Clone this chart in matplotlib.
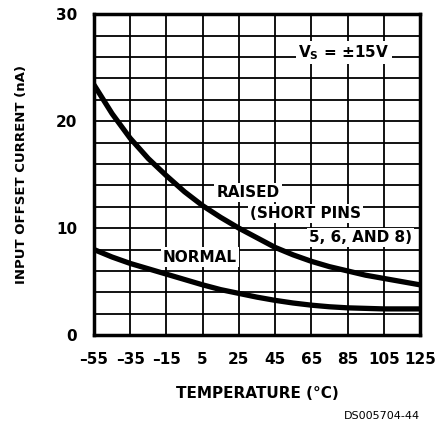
import matplotlib
matplotlib.use("Agg")
import matplotlib.pyplot as plt

temps = [-55, -45, -35, -25, -15, -5, 5, 15, 25, 35,
         45, 55, 65, 75, 85, 95, 105, 115, 125]
raised = [23.4, 20.7, 18.4, 16.5, 14.9, 13.4, 12.1, 11.0, 10.0, 9.1,
          8.2, 7.5, 6.9, 6.4, 6.0, 5.6, 5.3, 5.0, 4.7]
normal = [8.0, 7.3, 6.7, 6.2, 5.7, 5.2, 4.7, 4.25, 3.9, 3.55,
          3.25, 3.0, 2.8, 2.65, 2.55, 2.5, 2.45, 2.45, 2.45]

x_ticks = [-55, -35, -15, 5, 25, 45, 65, 85, 105, 125]
y_ticks = [0, 10, 20, 30]

plt.rcParams["font.family"] = ["Liberation Sans Narrow", "DejaVu Sans"]

fig = plt.figure(figsize=(4.37, 4.28), dpi=100)
ax = fig.add_axes([0.215, 0.217, 0.746, 0.750])

ax.set_xlim(-55, 125)
ax.set_ylim(0, 30)

# grid: every 20 degC, every 2 nA
for x in range(-55, 126, 20):
    ax.axvline(x, color="black", linewidth=1.3, zorder=1)
for y in range(0, 31, 2):
    ax.axhline(y, color="black", linewidth=1.3, zorder=1)

ax.plot(temps, raised, color="black", linewidth=3.8, zorder=3,
        solid_joinstyle="round", solid_capstyle="butt")
ax.plot(temps, normal, color="black", linewidth=3.8, zorder=3,
        solid_joinstyle="round", solid_capstyle="butt")

for s in ax.spines.values():
    s.set_linewidth(2.5)

ax.set_xticks(x_ticks)
ax.set_xticklabels([str(t) if t >= 0 else "\u2013" + str(-t) for t in x_ticks])
ax.set_yticks(y_ticks)
ax.tick_params(length=0, labelsize=11, pad=12)
for lbl in ax.get_xticklabels() + ax.get_yticklabels():
    lbl.set_fontweight("bold")

ax.set_xlabel("TEMPERATURE (\u00b0C)", fontsize=11, fontweight="bold", labelpad=14)
ax.set_ylabel("INPUT OFFSET CURRENT (nA)", fontsize=9.5, fontweight="bold", labelpad=20)

box = dict(facecolor="white", edgecolor="none", pad=1.5)
ax.text(83, 26.4, "V$_\\mathbf{S}$ = \u00b115V", fontsize=11, fontweight="bold",
        ha="center", va="center", bbox=box, zorder=4)
ax.text(30, 13.3, "RAISED", fontsize=11, fontweight="bold",
        ha="center", va="center", bbox=box, zorder=4)
ax.text(62, 11.4, "(SHORT PINS", fontsize=11, fontweight="bold",
        ha="center", va="center", bbox=box, zorder=4)
ax.text(92, 9.1, "5, 6, AND 8)", fontsize=11, fontweight="bold",
        ha="center", va="center", bbox=box, zorder=4)
ax.text(3.5, 7.3, "NORMAL", fontsize=11, fontweight="bold",
        ha="center", va="center", bbox=box, zorder=4)

fig.text(0.961, 0.016, "DS005704-44", fontsize=8, ha="right", va="bottom",
         family="DejaVu Sans")

fig.savefig("out.png", dpi=100)
